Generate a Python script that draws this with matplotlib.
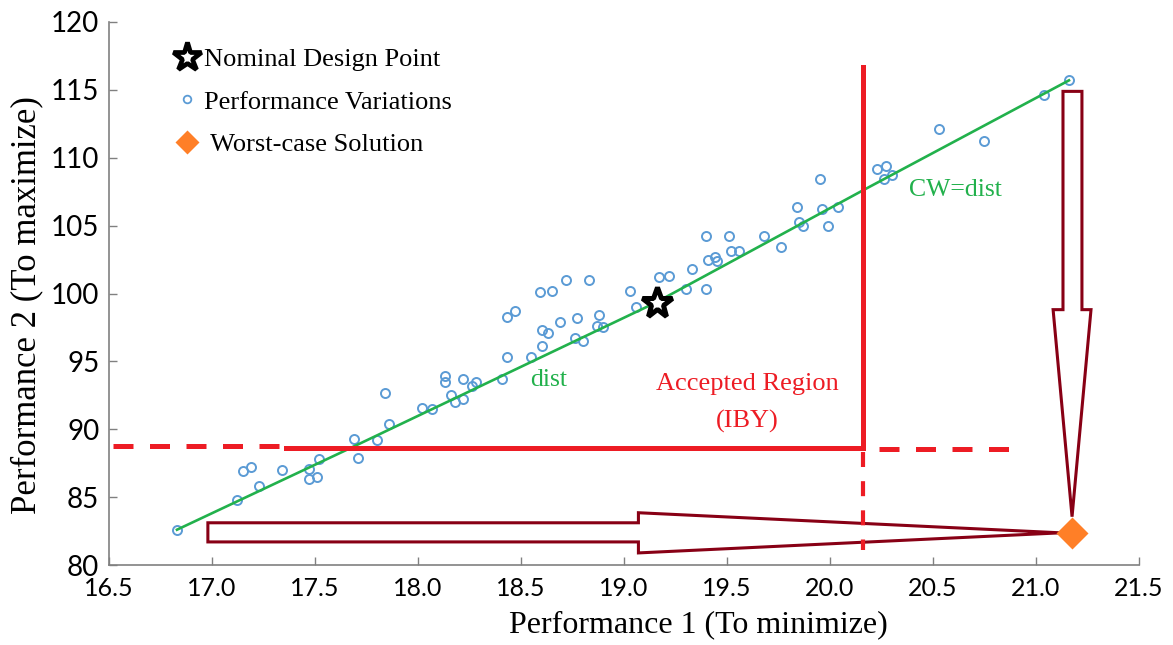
import matplotlib
matplotlib.use("Agg")
import matplotlib.pyplot as plt
from matplotlib.lines import Line2D
from matplotlib.patches import Polygon
from matplotlib.ticker import FormatStrFormatter

# sampled performance variations around the nominal design
perf1 = [16.83, 17.12, 17.15, 17.19, 17.23, 17.34, 17.47, 17.47, 17.51, 17.52,
         17.69, 17.71, 17.80, 17.86, 17.84, 18.02, 18.07, 18.13, 18.13, 18.16,
         18.18, 18.22, 18.22, 18.26, 18.28, 18.41, 18.43, 18.43, 18.47, 18.55,
         18.59, 18.60, 18.60, 18.63, 18.65, 18.69, 18.72, 18.76, 18.77, 18.80,
         18.83, 18.87, 18.88, 18.90, 19.03, 19.06, 19.17, 19.22, 19.30, 19.33,
         19.40, 19.40, 19.41, 19.44, 19.45, 19.51, 19.52, 19.56, 19.68, 19.76,
         19.84, 19.85, 19.87, 19.95, 19.96, 19.99, 20.04, 20.23, 20.27, 20.26,
         20.30, 20.53, 20.75, 21.04, 21.16]
perf2 = [82.6, 84.8, 86.9, 87.2, 85.8, 87.0, 87.1, 86.3, 86.5, 87.8,
         89.3, 87.9, 89.2, 90.4, 92.7, 91.6, 91.5, 93.9, 93.5, 92.5,
         92.0, 93.7, 92.2, 93.2, 93.5, 93.7, 95.3, 98.3, 98.7, 95.3,
         100.1, 97.3, 96.1, 97.1, 100.2, 97.9, 101.0, 96.7, 98.2, 96.5,
         101.0, 97.6, 98.4, 97.5, 100.2, 99.0, 101.2, 101.3, 100.3, 101.8,
         104.2, 100.3, 102.5, 102.7, 102.4, 104.2, 103.1, 103.1, 104.2, 103.4,
         106.4, 105.3, 105.0, 108.4, 106.2, 105.0, 106.4, 109.2, 109.4, 108.4,
         108.7, 112.1, 111.2, 114.6, 115.7]

# trend through the variations (CW = dist)
trend_p1 = [16.83, 17.67, 19.15, 20.16, 21.16]
trend_p2 = [82.6, 88.6, 99.3, 107.6, 115.7]

nominal = (19.16, 99.3)
worst_case = (21.175, 82.37)

# limits of the accepted region (IBY)
p1_limit = 20.16
p2_limit = 88.6

RED = "#ED1C24"
GREEN = "#22B14C"
DARKRED = "#880015"
BLUE = "#5B9BD5"
ORANGE = "#FF7F27"

plt.rcParams["font.family"] = "Liberation Serif"

fig = plt.figure(figsize=(11.73, 6.45), dpi=100)
ax = fig.add_axes([109 / 1173, 80 / 645, 1030 / 1173, 543 / 645])

ax.plot(perf1, perf2, "o", ms=6.5, mfc="none", mec=BLUE, mew=1.4, zorder=3)
ax.plot(trend_p1, trend_p2, color=GREEN, lw=1.9, zorder=4)

# accepted region boundaries
ax.plot([p1_limit, p1_limit], [116.7, p2_limit], color=RED, lw=3.6, zorder=6)
ax.plot([p1_limit, p1_limit], [p2_limit - 0.25, 81.1], color=RED, lw=3.0,
        linestyle=(0, (3.6, 3.4)), zorder=6)
ax.plot([17.36, p1_limit], [p2_limit, p2_limit], color=RED, lw=3.6, zorder=6)
ax.plot([16.52, 17.36], [p2_limit + 0.2, p2_limit + 0.2], color=RED, lw=3.6,
        linestyle=(0, (4.0, 3.3)), zorder=6)
ax.plot([20.24, 20.88], [p2_limit - 0.05, p2_limit - 0.05], color=RED, lw=3.6,
        linestyle=(0, (4.0, 3.3)), zorder=6)

# block arrows pointing at the worst case
h_arrow = [(16.98, 83.11), (19.07, 83.11), (19.07, 83.85), (21.12, 82.37),
           (19.07, 80.89), (19.07, 81.70), (16.98, 81.70)]
v_arrow = [(21.131, 114.89), (21.223, 114.89), (21.223, 98.81), (21.267, 98.81),
           (21.175, 83.56), (21.083, 98.81), (21.131, 98.81)]
for pts in (h_arrow, v_arrow):
    ax.add_patch(Polygon(pts, closed=True, facecolor="white", edgecolor=DARKRED,
                         lw=2.2, joinstyle="miter", zorder=5))

ax.plot(*nominal, marker="*", ms=23, mfc="white", mec="black", mew=3.6,
        zorder=7)
ax.plot(*worst_case, marker="D", ms=16, color=ORANGE, mec="none", zorder=8)

ax.text(19.60, 93.3, "Accepted Region", color=RED, fontsize=19,
        ha="center", va="center")
ax.text(19.60, 90.6, "(IBY)", color=RED, fontsize=19, ha="center", va="center")
ax.text(20.385, 107.6, "CW=dist", color=GREEN, fontsize=18.5, va="center")
ax.text(18.545, 93.6, "dist", color=GREEN, fontsize=18.5, va="center")

handles = [
    Line2D([], [], ls="none", marker="*", ms=21, mfc="white", mec="black",
           mew=3.4),
    Line2D([], [], ls="none", marker="o", ms=5.5, mfc="none", mec=BLUE,
           mew=1.3),
    Line2D([], [], ls="none", marker="D", ms=12, color=ORANGE, mec="none"),
]
labels = ["Nominal Design Point", "Performance Variations", " Worst-case Solution"]
ax.legend(handles, labels, loc="upper left", bbox_to_anchor=(0.053, 0.972),
          frameon=False, fontsize=19, handlelength=1.0, handletextpad=0.15,
          labelspacing=0.72, borderaxespad=0)

ax.set_xlim(16.5, 21.5)
ax.set_ylim(80, 120)
ax.set_xticks([16.5 + 0.5 * i for i in range(11)])
ax.set_yticks(range(80, 121, 5))
ax.xaxis.set_major_formatter(FormatStrFormatter("%.1f"))

for side in ("top", "right"):
    ax.spines[side].set_visible(False)
for side in ("left", "bottom"):
    ax.spines[side].set_color("#808080")
    ax.spines[side].set_linewidth(1.2)

ax.tick_params(direction="in", length=6, width=1.0, color="#808080")
ax.tick_params(axis="x", pad=9)
ax.tick_params(axis="y", pad=7)
for lab in ax.get_xticklabels():
    lab.set_fontfamily("Lato")
    lab.set_fontsize(18)
for lab in ax.get_yticklabels():
    lab.set_fontfamily("Lato")
    lab.set_fontsize(20)

ax.set_xlabel("Performance 1 (To minimize)", fontsize=23)
ax.set_ylabel("Performance 2 (To maximize)", fontsize=25)
ax.xaxis.set_label_coords(0.572, -0.083)
ax.yaxis.set_label_coords(-0.064, 0.479)

fig.savefig("out.png", dpi=100)
